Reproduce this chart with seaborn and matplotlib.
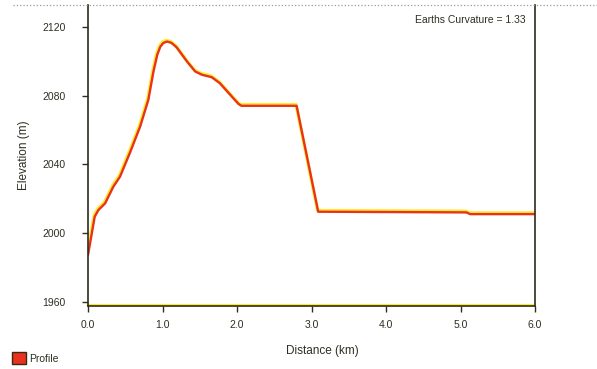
import matplotlib
matplotlib.use("Agg")
import matplotlib.pyplot as plt
import matplotlib.transforms as mtransforms
from matplotlib.lines import Line2D
from matplotlib.patches import Patch
import pandas as pd
import seaborn as sns

# Terrain profile along the path
distance_km = [0.00, 0.09, 0.14, 0.23, 0.34, 0.43, 0.56, 0.70, 0.81, 0.88,
               0.93, 0.97, 1.01, 1.06, 1.12, 1.19, 1.33, 1.44, 1.53, 1.66,
               1.77, 1.91, 2.02, 2.06, 2.80, 3.09, 5.08, 5.13, 6.00]
elevation_m = [1987.2, 2009.5, 2013.4, 2017.3, 2027.0, 2032.9, 2046.5, 2062.1,
               2077.7, 2094.5, 2104.0, 2108.6, 2110.8, 2111.7, 2110.9, 2108.3,
               2100.0, 2094.2, 2092.3, 2090.9, 2087.4, 2080.6, 2075.3, 2074.2,
               2074.2, 2012.4, 2012.0, 2011.0, 2011.0]

x_ticks = [0, 1, 2, 3, 4, 5, 6]
x_tick_labels = ["0.0", "1.0", "2.0", "3.0", "4.0", "5.0", "6.0"]
y_ticks = [1960, 2000, 2040, 2080, 2120]
y_tick_labels = ["1960", "2000", "2040", "2080", "2120"]
curvature_note = "Earths Curvature = 1.33"
series_name = "Profile"

sns.set_theme(style="white")
plt.rcParams['font.family'] = ['Liberation Sans', 'DejaVu Sans']

W, H = 597, 369
fig = plt.figure(figsize=(W / 100, H / 100), dpi=100)
fig.patch.set_facecolor("white")
ax = fig.add_axes([88 / W, 1 - 306 / H, (535 - 88) / W, (306 - 5) / H])
ax.set_facecolor("white")

df = pd.DataFrame({"Distance (km)": distance_km, "Elevation (m)": elevation_m})

text_col = "#2e2e22"
red = "#e8321e"
yellow = "#ffea2e"

# yellow halo slightly above the profile line
sns.lineplot(data=df, x="Distance (km)", y="Elevation (m)", ax=ax,
             color=yellow, lw=2.4, estimator=None)
shadow = ax.transData + mtransforms.ScaledTranslation(-0.006, 0.012, fig.dpi_scale_trans)
ax.lines[-1].set_transform(shadow)
sns.lineplot(data=df, x="Distance (km)", y="Elevation (m)", ax=ax,
             color=red, lw=1.7, estimator=None)

ax.set_xlim(0, 6)
ax.set_ylim(1957.4, 2133)

# yellow trace along the base axis
base = ax.get_xaxis_transform() + mtransforms.ScaledTranslation(0, 0.012, fig.dpi_scale_trans)
ax.add_line(Line2D([0, 6], [0, 0], transform=base, color=yellow, lw=1.6, zorder=1))

ax.set_xticks(x_ticks)
ax.set_xticklabels(x_tick_labels)
ax.set_yticks(y_ticks)
ax.set_yticklabels(y_tick_labels)
ax.tick_params(axis="both", direction="out", length=4, width=1,
               colors=text_col, labelsize=7.5, bottom=True, left=True)
ax.tick_params(axis="y", pad=12)
ax.tick_params(axis="x", pad=6)

for side in ["left", "right", "bottom"]:
    ax.spines[side].set_color("#2b2b1e")
    ax.spines[side].set_linewidth(1.2)
ax.spines["top"].set_visible(False)

ax.set_xlabel("Distance (km)", fontsize=8.5, color=text_col)
ax.set_ylabel("Elevation (m)", fontsize=8.5, color=text_col)
ax.xaxis.set_label_coords((322 - 88) / 447, (306 - 351) / 301)
ax.yaxis.set_label_coords((24 - 88) / 447, 0.5)
ax.xaxis.label.set_va("center")
ax.yaxis.label.set_va("center")

ax.text(0.978, (306 - 20) / 301, curvature_note, transform=ax.transAxes,
        ha="right", va="center", fontsize=7.5, color=text_col)

# dotted border along the top
fig.add_artist(Line2D([13 / W, 1], [1 - 5 / H] * 2, transform=fig.transFigure,
                      color="#9a9a9a", ls=":", lw=0.9))

handle = Patch(facecolor=red, edgecolor="#3a2a10", linewidth=1)
fig.legend([handle], [series_name], loc="lower left",
           bbox_to_anchor=(12 / W, 1 - 364 / H), frameon=False,
           fontsize=7.5, handlelength=1.35, handleheight=1.35,
           handletextpad=0.3, borderpad=0, borderaxespad=0,
           labelcolor=text_col)

fig.savefig("out.png", dpi=100, facecolor="white")
